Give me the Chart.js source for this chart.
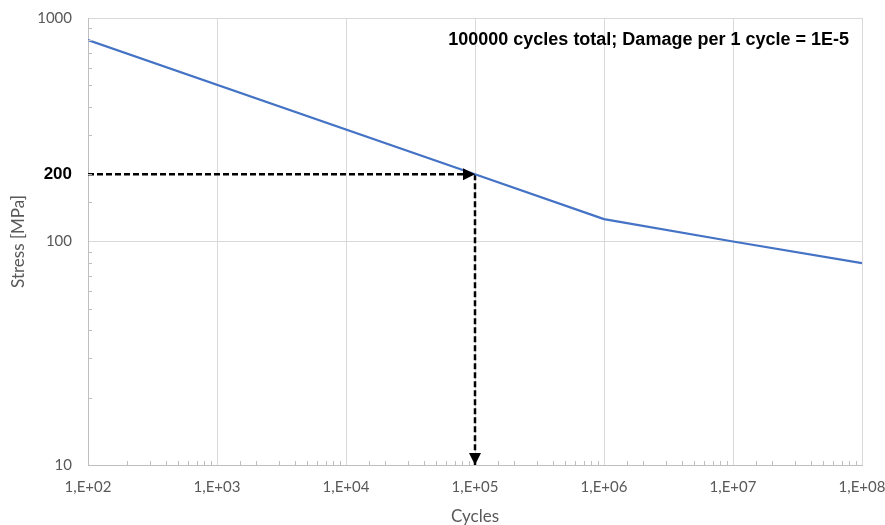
<!DOCTYPE html>
<html>
<head>
<meta charset="utf-8">
<script src="https://cdn.jsdelivr.net/npm/chart.js@4.4.1/dist/chart.umd.min.js"></script>
<style>
  html, body { margin: 0; padding: 0; background: #fff; }
  #wrap { width: 885px; height: 525px; position: relative; }
</style>
</head>
<body>
<div id="wrap"><canvas id="sn"></canvas></div>
<script>
// S-N curve
const cycles = [1e2, 1e5, 1e6, 1e7, 1e8];
const stress = [796, 200, 126, 100, 80];

// dashed lookup path: 200 MPa -> 1E+05 cycles
const lookupCycles = [1e2, 1e5, 1e5];
const lookupStress = [200, 200, 10];

const yLabelValues = [10, 100, 200, 1000];
const noteText = '100000 cycles total; Damage per 1 cycle = 1E-5';

const GRID = '#d9d9d9';
const AXIS = '#bfbfbf';
const LABEL = '#595959';
const FONT = 'Lato, "Open Sans", sans-serif';
const BOLD = '"Liberation Sans", Arial, sans-serif';

const isDecade = (v) => Math.abs(Math.log10(v) - Math.round(Math.log10(v))) < 1e-9;

const expLabel = (v) => {
  const e = Math.round(Math.log10(v));
  return '1,E+' + (e < 10 ? '0' + e : e);
};

// minor ticks drawn inside the plot, arrowheads and the note
const extras = {
  id: 'extras',
  afterDatasetsDraw(chart) {
    const { ctx, chartArea: a, scales: { x, y } } = chart;
    ctx.save();
    ctx.strokeStyle = AXIS;
    ctx.lineWidth = 1;
    x.ticks.forEach((t) => {
      if (isDecade(t.value)) return;
      const px = Math.round(x.getPixelForValue(t.value)) + 0.5;
      ctx.beginPath(); ctx.moveTo(px, a.bottom); ctx.lineTo(px, a.bottom - 4); ctx.stroke();
    });
    y.ticks.forEach((t) => {
      if (isDecade(t.value)) return;
      const py = Math.round(y.getPixelForValue(t.value)) + 0.5;
      ctx.beginPath(); ctx.moveTo(a.left, py); ctx.lineTo(a.left + 4, py); ctx.stroke();
    });

    // arrowheads at the end of each dashed leg
    const pts = chart.getDatasetMeta(1).data;
    ctx.fillStyle = '#000';
    [1, 2].forEach((i) => {
      const p = pts[i], q = pts[i - 1];
      const ang = Math.atan2(p.y - q.y, p.x - q.x);
      ctx.save();
      ctx.translate(p.x, p.y);
      ctx.rotate(ang);
      ctx.beginPath();
      ctx.moveTo(0, 0);
      ctx.lineTo(-12, -6);
      ctx.lineTo(-12, 6);
      ctx.closePath();
      ctx.fill();
      ctx.restore();
    });

    ctx.font = 'bold 18px ' + BOLD;
    ctx.fillStyle = '#000';
    ctx.textAlign = 'right';
    ctx.textBaseline = 'middle';
    ctx.fillText(noteText, a.right - 13, a.top + 22);
    ctx.restore();
  }
};

new Chart(document.getElementById('sn'), {
  type: 'line',
  data: {
    datasets: [
      {
        data: cycles.map((c, i) => ({ x: c, y: stress[i] })),
        borderColor: '#4472c4',
        borderWidth: 2.25,
        pointRadius: 0,
        tension: 0
      },
      {
        data: lookupCycles.map((c, i) => ({ x: c, y: lookupStress[i] })),
        borderColor: '#000',
        borderWidth: 2.5,
        borderDash: [6, 3],
        pointRadius: 0,
        tension: 0,
        clip: false
      }
    ]
  },
  plugins: [extras],
  options: {
    responsive: true,
    maintainAspectRatio: false,
    animation: false,
    layout: { padding: { top: 18, right: 23, left: 0, bottom: 0 } },
    plugins: { legend: { display: false }, tooltip: { enabled: false } },
    scales: {
      x: {
        type: 'logarithmic',
        min: 1e2,
        max: 1e8,
        afterFit: (s) => { s.height = 60; s.paddingLeft = 0; s.paddingRight = 0; },
        grid: {
          color: (c) => (c.tick && isDecade(c.tick.value) ? GRID : 'rgba(0,0,0,0)'),
          lineWidth: 1,
          drawTicks: false
        },
        border: { color: AXIS, width: 1 },
        ticks: {
          autoSkip: false,
          maxRotation: 0,
          padding: 13,
          color: LABEL,
          font: { family: FONT, size: 15 },
          callback: (v) => (isDecade(v) ? expLabel(v) : '')
        },
        title: {
          display: true,
          text: 'Cycles',
          color: LABEL,
          font: { family: FONT, size: 17, lineHeight: 1 },
          padding: { top: 4, bottom: 0 }
        }
      },
      y: {
        type: 'logarithmic',
        min: 10,
        max: 1000,
        afterFit: (s) => { s.width = 88; s.paddingTop = 0; s.paddingBottom = 0; },
        grid: {
          color: (c) => (c.tick && isDecade(c.tick.value) ? GRID : 'rgba(0,0,0,0)'),
          lineWidth: 1,
          drawTicks: false
        },
        border: { color: AXIS, width: 1 },
        ticks: {
          autoSkip: false,
          padding: 16,
          color: (c) => (c.tick && c.tick.value === 200 ? '#000' : LABEL),
          font: (c) => (c.tick && c.tick.value === 200
            ? { family: BOLD, size: 17, weight: 'bold' }
            : { family: FONT, size: 15 }),
          callback: (v) => (yLabelValues.includes(v) ? String(v) : '')
        },
        title: {
          display: true,
          text: 'Stress [MPa]',
          color: LABEL,
          font: { family: FONT, size: 17 },
          padding: { top: 8, bottom: 0 }
        }
      }
    }
  }
});
</script>
</body>
</html>
